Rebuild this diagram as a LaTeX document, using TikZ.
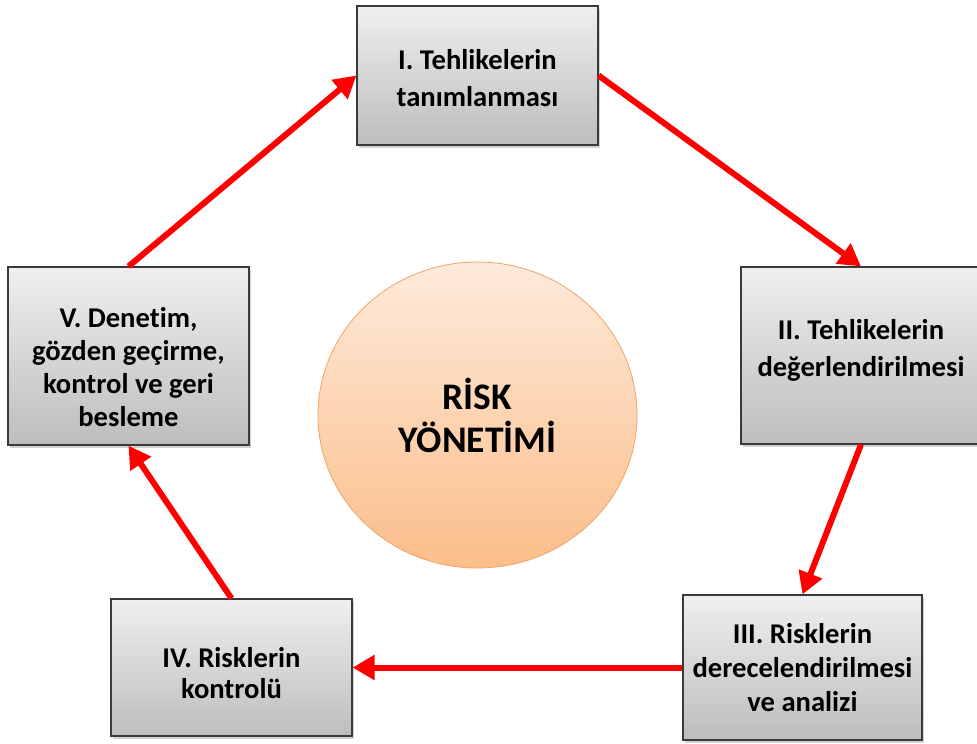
\documentclass[tikz,border=0pt]{standalone}
\usepackage{fontspec}
\setmainfont{Carlito}[Ligatures=NoCommon]
\usetikzlibrary{arrows.meta,shadows,shapes.geometric}

\definecolor{boxtop}{HTML}{EFEFEF}
\definecolor{boxbot}{HTML}{BDBDBD}
\definecolor{boxline}{HTML}{3A3A3A}
\definecolor{circtop}{HTML}{FDEADB}
\definecolor{circbot}{HTML}{FBBE8A}
\definecolor{circline}{HTML}{F4A261}
\definecolor{arrowred}{HTML}{FF0000}

% invisible struts that nudge a text block down (top) or up (bottom)
\newcommand{\padtop}[1]{\rule{0pt}{#1}}
\newcommand{\padbottom}[1]{\rule[-#1]{0pt}{0pt}}

\tikzset{
  stagebox/.style={
    rectangle, draw=boxline, line width=1.2pt,
    top color=boxtop, bottom color=boxbot,
    drop shadow={shadow xshift=2pt, shadow yshift=-2.5pt, opacity=0.35},
    align=center, inner sep=0pt
  },
  stagefont/.style={font=\bfseries\fontsize{28.6}{#1}\selectfont},
  cycle arrow/.style={
    draw=arrowred, line width=6pt,
    -{Triangle[length=22pt,width=24pt]}
  }
}

\begin{document}
\begin{tikzpicture}[x=1pt,y=-1pt]
  \useasboundingbox (0,0) rectangle (977,744);

  % central ellipse
  \node[ellipse, minimum width=319pt, minimum height=306pt, inner sep=0pt,
        draw=circline, line width=0.8pt, top color=circtop, bottom color=circbot,
        align=center, font=\bfseries\fontsize{37.5}{43}\selectfont]
        (risk) at (477.5,415) {RİSK\\YÖNETİMİ};

  % five stages of the cycle
  \node[stagebox, stagefont=37, minimum width=241pt, minimum height=139pt]
        (I) at (477.5,75.5) {\padtop{26pt}I. Tehlikelerin\\tanımlanması};
  \node[stagebox, stagefont=37, minimum width=240pt, minimum height=177pt]
        (II) at (861,355.5) {II. Tehlikelerin\\değerlendirilmesi\padbottom{16pt}};
  \node[stagebox, stagefont=34, minimum width=239pt, minimum height=145pt]
        (III) at (802.5,667.5) {III. Risklerin\\derecelendirilmesi\\ve analizi};
  \node[stagebox, stagefont=31, minimum width=241pt, minimum height=137pt]
        (IV) at (231.5,667.5) {\padtop{31pt}IV. Risklerin\\kontrolü};
  \node[stagebox, stagefont=33, minimum width=241pt, minimum height=178pt]
        (V) at (128.5,356) {\padtop{42pt}V. Denetim,\\gözden geçirme,\\kontrol ve geri\\besleme};

  % cycle connectors
  \draw[cycle arrow] (I.east) -- (II.north);
  \draw[cycle arrow] (II.south) -- (III.north);
  \draw[cycle arrow] (III.west) -- (IV.east);
  \draw[cycle arrow] (IV.north) -- (V.south);
  \draw[cycle arrow] (V.north) -- (I.west);
\end{tikzpicture}
\end{document}
